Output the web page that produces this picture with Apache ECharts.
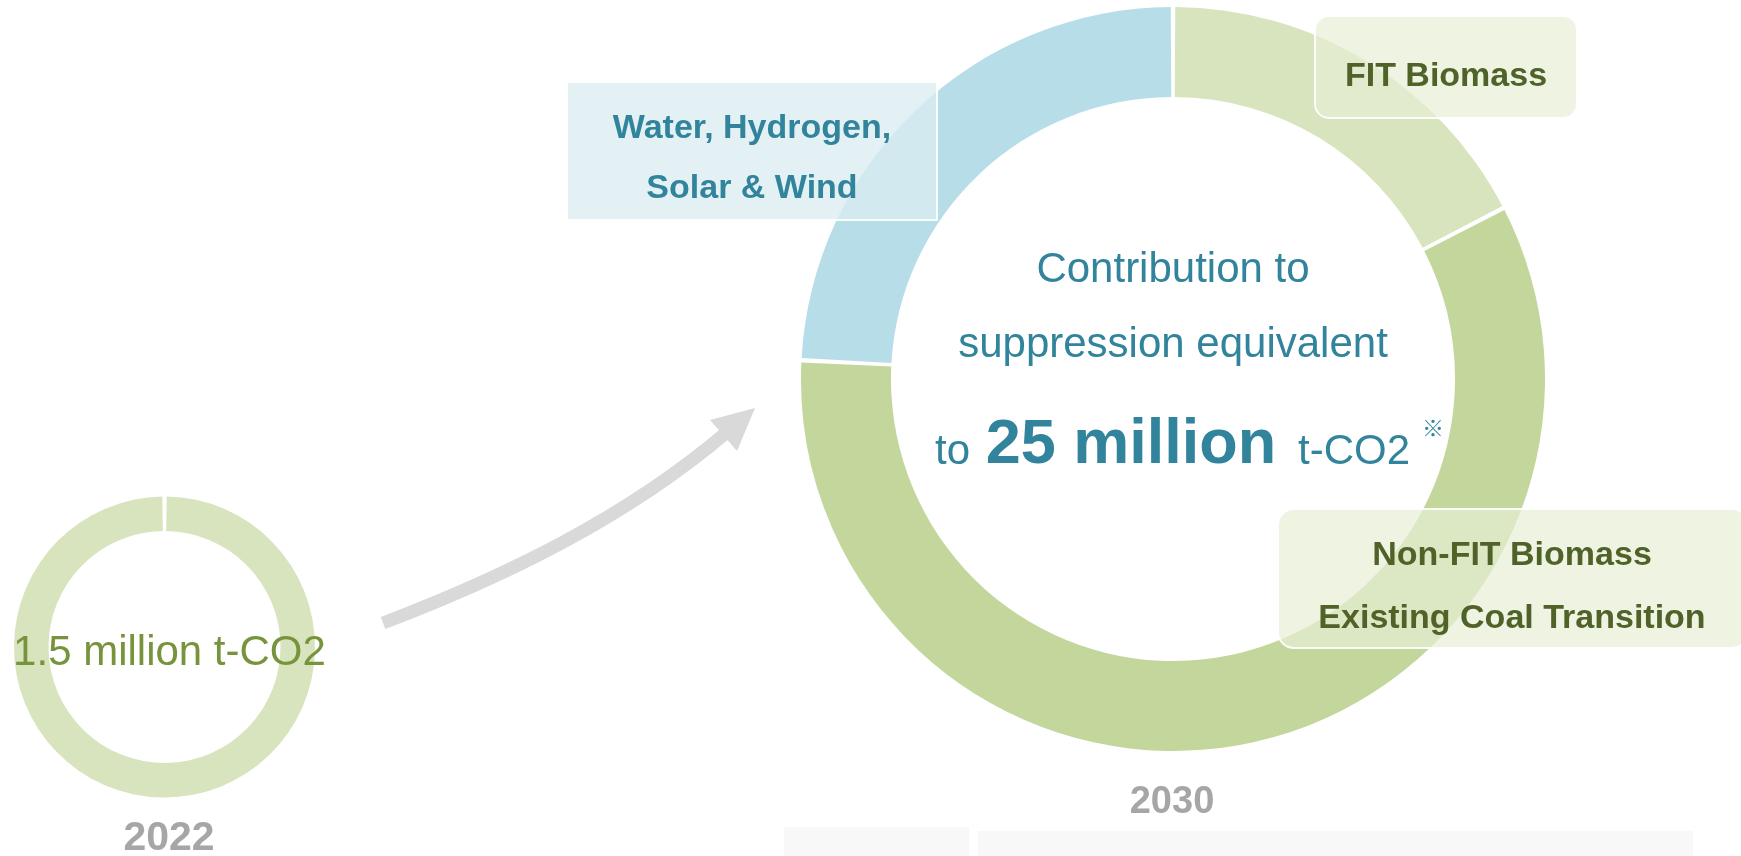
<!DOCTYPE html>
<html>
<head>
<meta charset="utf-8">
<style>
  html, body { margin: 0; padding: 0; background: #ffffff; }
  #chart { width: 1741px; height: 856px; }
</style>
<script src="https://cdn.jsdelivr.net/npm/echarts@6.0.0/dist/echarts.min.js"></script>
</head>
<body>
<div id="chart"></div>
<script>
// ---- data ----
const categories2030 = ['FIT Biomass', 'Non-FIT Biomass\nExisting Coal Transition', 'Water, Hydrogen,\nSolar & Wind'];
const values2030 = [4.35, 14.6, 6.05];        // million t-CO2
const colors2030 = ['#d7e4bd', '#c3d69b', '#b7dee8'];
const categories2022 = ['Total'];
const values2022 = [1.5];                     // million t-CO2
const yearLabels = ['2022', '2030'];
const unitLabel = 't-CO2';

const FONT = "'Liberation Sans', Arial, Helvetica, sans-serif";
const TEAL = '#31849b';
const OLIVE = '#4f6228';
const total2030 = Math.round(values2030.reduce((a, b) => a + b, 0));

function txt(text, x, y, size, color, weight, align, family) {
  return {
    type: 'text', x: x, y: y, z: 110, silent: true,
    style: {
      text: text, fill: color, fontSize: size, fontWeight: weight || 'normal',
      fontFamily: family || FONT,
      align: align || 'center', verticalAlign: 'middle',
      textAlign: align || 'center', textVerticalAlign: 'middle'
    }
  };
}

const chart = echarts.init(document.getElementById('chart'), null, { renderer: 'canvas' });

const graphics = [
  // faint bottom panels
  { type: 'rect', z: 1, silent: true, shape: { x: 784, y: 827, width: 185, height: 29 }, style: { fill: '#f8f8f8' } },
  { type: 'rect', z: 1, silent: true, shape: { x: 978, y: 831, width: 715, height: 25 }, style: { fill: '#f8f8f8' } },
  // arrow
  { type: 'bezierCurve', z: 5, silent: true,
    shape: { x1: 383, y1: 623, cpx1: 504, cpy1: 577, cpx2: 626, cpy2: 518, x2: 727, y2: 432 },
    style: { stroke: '#d9d9d9', lineWidth: 13, fill: null, lineCap: 'butt' } },
  { type: 'polygon', z: 5, silent: true,
    shape: { points: [[755, 408], [710, 420], [737, 451]] },
    style: { fill: '#d9d9d9' } },
  // label boxes
  { type: 'rect', z: 100, silent: true,
    shape: { x: 1315, y: 16, width: 262, height: 102, r: 14 },
    style: { fill: 'rgba(231,238,214,0.7)', stroke: 'rgba(255,255,255,0.9)', lineWidth: 2 } },
  { type: 'rect', z: 100, silent: true,
    shape: { x: 1278, y: 509, width: 470, height: 139, r: 16 },
    style: { fill: 'rgba(231,238,214,0.7)', stroke: 'rgba(255,255,255,0.9)', lineWidth: 2 } },
  { type: 'rect', z: 100, silent: true,
    shape: { x: 567, y: 82, width: 370, height: 138 },
    style: { fill: 'rgba(218,236,242,0.75)', stroke: 'rgba(255,255,255,0.9)', lineWidth: 2 } },
  // label texts
  txt(categories2030[0], 1446, 77, 34, OLIVE, 'bold'),
  txt(categories2030[1].split('\n')[0], 1512, 556, 34, OLIVE, 'bold'),
  txt(categories2030[1].split('\n')[1], 1512, 619, 34, OLIVE, 'bold'),
  txt(categories2030[2].split('\n')[0], 752, 129, 34, TEAL, 'bold'),
  txt(categories2030[2].split('\n')[1], 752, 189, 34, TEAL, 'bold'),
  // center text of 2030 donut
  txt('Contribution to', 1173, 270, 42, TEAL),
  txt('suppression equivalent', 1173, 345, 42, TEAL),
  txt('to', 970, 452, 42, TEAL, 'normal', 'right'),
  txt(total2030 + ' million', 1131, 446, 63, TEAL, 'bold'),
  txt(unitLabel, 1298, 452, 42, TEAL, 'normal', 'left'),
  txt('※', 1433, 428, 22, TEAL, 'normal', 'center', "'Noto Sans CJK JP', 'DejaVu Sans', sans-serif"),
  // year labels
  txt(yearLabels[0], 169, 839, 41, '#a6a6a6', 'bold'),
  txt(yearLabels[1], 1172, 803, 38, '#a6a6a6', 'bold')
];

const option = {
  animation: false,
  backgroundColor: '#ffffff',
  textStyle: { fontFamily: FONT },
  graphic: { elements: graphics },
  series: [
    {
      type: 'pie',
      name: '2030',
      center: [1173, 379],
      radius: [282, 372],
      startAngle: 90,
      clockwise: true,
      padAngle: 0.7,
      silent: true,
      z: 10,
      label: { show: false },
      labelLine: { show: false },
      emphasis: { disabled: true },
      data: categories2030.map((n, i) => ({
        name: n, value: values2030[i], itemStyle: { color: colors2030[i] }
      }))
    },
    {
      type: 'pie',
      name: '2022',
      center: [164.5, 647],
      radius: [116, 150.5],
      startAngle: 90,
      clockwise: true,
      padAngle: 1.7,
      silent: true,
      z: 10,
      label: {
        show: true,
        position: 'center',
        formatter: p => p.value + ' million ' + unitLabel,
        color: '#77933c',
        fontSize: 42,
        fontFamily: FONT,
        padding: [13, 0, 0, 10]
      },
      labelLayout: { dy: 6 },
      labelLine: { show: false },
      emphasis: { disabled: true },
      data: categories2022.map((n, i) => ({
        name: n, value: values2022[i], itemStyle: { color: '#d7e4bd' }
      }))
    }
  ]
};

chart.setOption(option);
</script>
</body>
</html>
